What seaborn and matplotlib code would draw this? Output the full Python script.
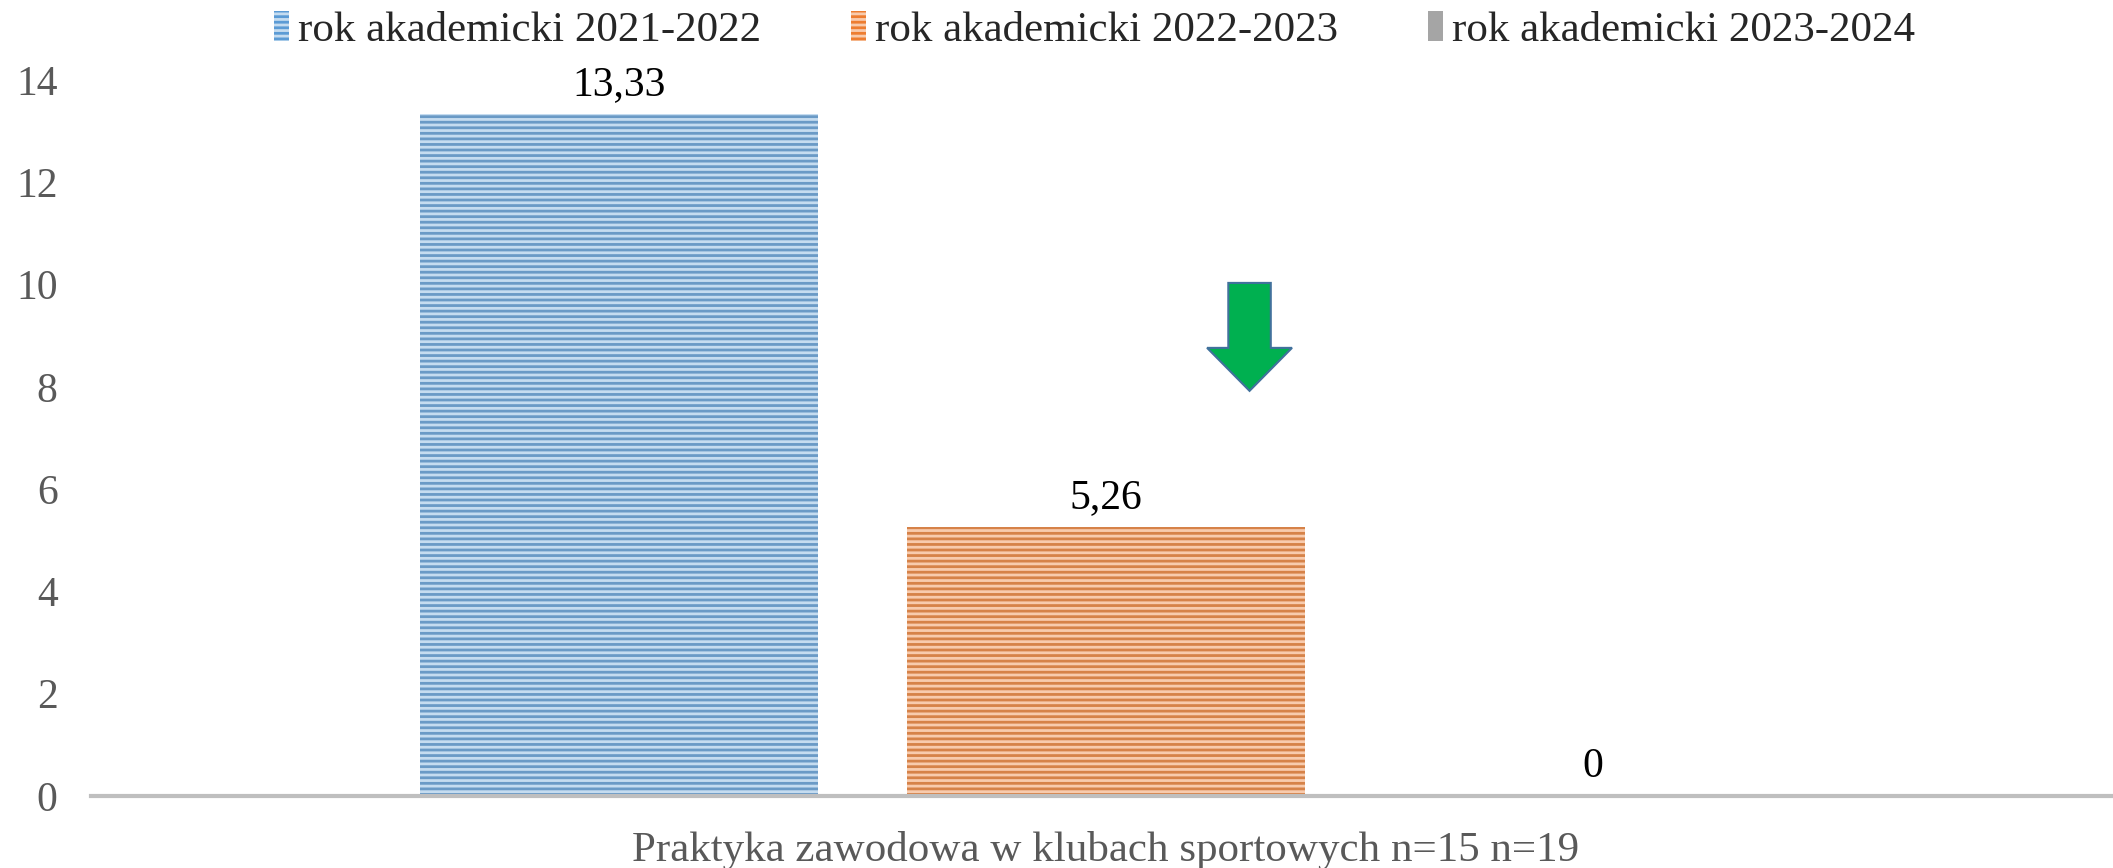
import pandas as pd
import matplotlib.pyplot as plt
import seaborn as sns
from matplotlib.patches import FancyArrow

# data
category = ['Praktyka zawodowa w klubach sportowych n=15 n=19']
years = ['rok akademicki 2021-2022', 'rok akademicki 2022-2023', 'rok akademicki 2023-2024']
values = [13.33, 5.26, 0]
value_labels = ['13,33', '5,26', '0']

colors = ['#5B9BD5', '#ED7D31', '#A5A5A5']
stripe_colors = ['#C5DCF0', '#F8CBAD', '#A5A5A5']

df = pd.DataFrame({'kategoria': category * len(years), 'rok': years, 'wartosc': values})

sns.set_style('white')
plt.rcParams['font.family'] = ['Liberation Serif', 'DejaVu Serif']
plt.rcParams['hatch.linewidth'] = 2.0

fig = plt.figure(figsize=(21.13, 8.68), dpi=100)
ax = fig.add_axes([0.043, 0.083, 0.957, 0.825])

sns.barplot(data=df, x='kategoria', y='wartosc', hue='rok', palette=colors,
            width=0.723, gap=0.183, ax=ax, legend=False)

for bars, sc in zip(ax.containers, stripe_colors):
    for p in bars:
        p.set_edgecolor(sc)
        p.set_linewidth(0)
        p.set_hatch('---')

for bars, lab in zip(ax.containers, value_labels):
    ax.bar_label(bars, labels=[lab], padding=7, fontsize=30, color='black')

# green arrow pointing down
ax.add_patch(FancyArrow(0.071, 10.03, 0, -2.11, width=0.021, head_width=0.042,
                        head_length=0.84, length_includes_head=True,
                        facecolor='#00B050', edgecolor='#41719C', linewidth=1.5))

ax.set_xlim(-0.502, 0.498)
ax.set_ylim(0, 14)
ax.set_yticks(range(0, 15, 2))
ax.tick_params(axis='y', labelsize=30, labelcolor='#595959', length=0, pad=24)
ax.tick_params(axis='x', labelsize=31, labelcolor='#595959', length=0, pad=25)
ax.set_xlabel('')
ax.set_ylabel('')
sns.despine(ax=ax, left=True, right=True, top=True)
ax.spines['bottom'].set_color('#BFBFBF')
ax.spines['bottom'].set_linewidth(3)

handles = [plt.Rectangle((0, 0), 1, 1, facecolor=c, edgecolor=sc, linewidth=0, hatch='---')
           for c, sc in zip(colors, stripe_colors)]
fig.legend(handles, years, loc='center', bbox_to_anchor=(0.518, 0.965), ncol=3,
           frameon=False, fontsize=31, handlelength=0.35, handleheight=0.7,
           handletextpad=0.2, columnspacing=2.1)

fig.savefig('out.png', dpi=100)
